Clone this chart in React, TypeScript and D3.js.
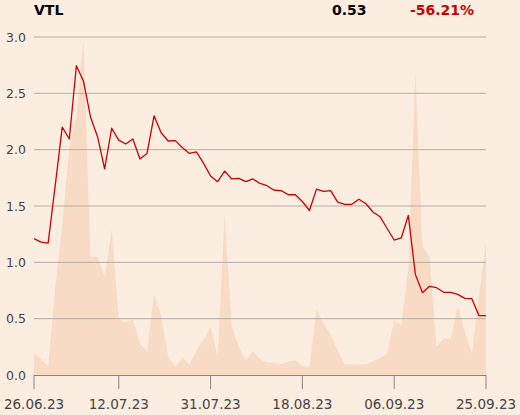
import React from "react";
import * as d3 from "d3";

const dateLabels = ["26.06.23", "12.07.23", "31.07.23", "18.08.23", "06.09.23", "25.09.23"];
const tickIndex = [0, 12, 25, 38, 51, 64];
const yTicks = [0, 0.5, 1.0, 1.5, 2.0, 2.5, 3.0];

const price = [
  1.21, 1.18, 1.17, 1.68, 2.2, 2.095, 2.745, 2.61, 2.29, 2.115,
  1.83, 2.19, 2.085, 2.05, 2.095, 1.917, 1.967, 2.3, 2.15, 2.077,
  2.08, 2.02, 1.967, 1.98, 1.88, 1.766, 1.716, 1.81, 1.74, 1.745,
  1.716, 1.74, 1.7, 1.68, 1.64, 1.636, 1.6, 1.6, 1.54, 1.46,
  1.65, 1.63, 1.636, 1.535, 1.515, 1.515, 1.56, 1.52, 1.447, 1.405,
  1.3, 1.198, 1.216, 1.417, 0.893, 0.73, 0.787, 0.775, 0.734, 0.734,
  0.716, 0.68, 0.677, 0.527, 0.527,
];

const volume = [
  0.2, 0.14, 0.08, 0.77, 1.33, 2.03, 2.29, 2.97, 1.05, 1.05,
  0.87, 1.29, 0.5, 0.47, 0.49, 0.28, 0.21, 0.72, 0.53, 0.16,
  0.07, 0.15, 0.095, 0.215, 0.31, 0.43, 0.17, 1.42, 0.43, 0.25,
  0.13, 0.21, 0.14, 0.11, 0.11, 0.095, 0.12, 0.13, 0.08, 0.07,
  0.58, 0.46, 0.36, 0.22, 0.09, 0.095, 0.095, 0.095, 0.12, 0.15,
  0.19, 0.49, 0.44, 0.95, 2.68, 1.14, 1.05, 0.25, 0.325, 0.325,
  0.61, 0.385, 0.19, 0.7, 1.18,
];

const symbol = "VTL";
const lastValue = "0.53";
const change = "-56.21%";

const W = 520;
const H = 415;
const BG = "#fcede1";

export default function App() {
  React.useEffect(() => {
    document.body.style.margin = "0";
    document.body.style.background = BG;
  }, []);

  const x = d3.scaleLinear().domain([0, price.length - 1]).range([34, 486]);
  const y = d3.scaleLinear().domain([0, 3]).range([375, 37]);
  const yv = d3.scaleLinear().domain([0, 3]).range([375, 37]);

  const line = d3
    .line<number>()
    .x((_, i) => x(i))
    .y((d) => y(d));
  const area = d3
    .area<number>()
    .x((_, i) => x(i))
    .y0(yv(0))
    .y1((d) => yv(d));

  const font = "'DejaVu Sans', sans-serif";

  return (
    <svg
      width={W}
      height={H}
      style={{ position: "absolute", left: 0, top: 0, display: "block" }}
      fontFamily={font}
    >
      <rect x={0} y={0} width={W} height={H} fill={BG} />
      <path d={area(volume) || ""} fill="#f8dbc5" />
      {yTicks.map((t) => (
        <g key={t}>
          {t > 0 && (
            <line x1={34} x2={486} y1={y(t)} y2={y(t)} stroke="#b5aea8" strokeWidth={1} />
          )}
          <text x={26} y={y(t) + 4.5} textAnchor="end" fontSize={12.5} fill="#444">
            {t.toFixed(1)}
          </text>
        </g>
      ))}
      <path d={line(price) || ""} fill="none" stroke="#cc0000" strokeWidth={1.3} strokeLinejoin="round" />
      <line x1={34} x2={486} y1={375.5} y2={375.5} stroke="#8a8581" strokeWidth={1} />
      {tickIndex.map((ti, k) => (
        <g key={ti}>
          <line x1={x(ti)} x2={x(ti)} y1={375} y2={389} stroke="#8a8581" strokeWidth={1} />
          <text x={x(ti)} y={409} textAnchor="middle" fontSize={13.5} fill="#444">
            {dateLabels[k]}
          </text>
        </g>
      ))}
      <text x={34} y={15} fontSize={14} fontWeight="bold" fill="#000">
        {symbol}
      </text>
      <text x={332} y={15} fontSize={14} fontWeight="bold" fill="#000">
        {lastValue}
      </text>
      <text x={410} y={15} fontSize={14} fontWeight="bold" fill="#cc0000">
        {change}
      </text>
    </svg>
  );
}
